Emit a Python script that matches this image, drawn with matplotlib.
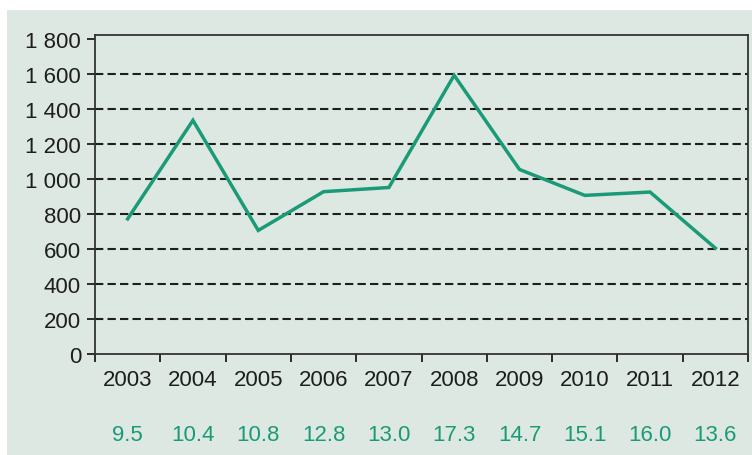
import matplotlib
matplotlib.use("Agg")
import matplotlib.pyplot as plt
from matplotlib.patches import Rectangle

years = ["2003", "2004", "2005", "2006", "2007", "2008", "2009", "2010", "2011", "2012"]
values = [771, 1333, 705, 926, 950, 1590, 1053, 905, 924, 604]
bottom_labels = ["9.5", "10.4", "10.8", "12.8", "13.0", "17.3", "14.7", "15.1", "16.0", "13.6"]

bg = "#dde8e2"
green = "#1b9a78"
dark = "#1e1e1e"

plt.rcParams["font.family"] = ["Liberation Sans", "DejaVu Sans"]

fig = plt.figure(figsize=(7.52, 4.56), dpi=100)
fig.patch.set_facecolor("white")
fig.add_artist(Rectangle((7 / 752, 0), 1 - 7 / 752, 1 - 11 / 456,
                         transform=fig.transFigure, facecolor=bg,
                         edgecolor="none", zorder=-1))

ax = fig.add_axes([95 / 752, 101 / 456, 653 / 752, 319 / 456])
ax.set_zorder(1)
ax.set_facecolor(bg)

x = list(range(len(years)))
ax.plot(x, values, color=green, linewidth=2.5, solid_joinstyle="miter", zorder=3)

ax.set_xlim(-0.5, len(years) - 0.5)
ax.set_ylim(0, 1820)

# y axis
yticks = list(range(0, 1801, 200))
ax.set_yticks(yticks)
ax.set_yticklabels([f"{v:,}".replace(",", " ") for v in yticks])
for v in yticks[1:-1]:
    ax.axhline(v, color=dark, linewidth=1.5, linestyle=(0, (4.0, 2.0)), zorder=2)

# x axis: ticks at boundaries, labels at centres
ax.set_xticks([i - 0.5 for i in range(len(years) + 1)])
ax.set_xticklabels([])
ax.set_xticks(x, minor=True)
ax.set_xticklabels(years, minor=True)
ax.tick_params(axis="x", which="minor", length=0, pad=11, labelsize=16, colors=dark)
ax.tick_params(axis="x", which="major", length=6, width=1.3, direction="out", color=dark)
ax.tick_params(axis="y", length=6, width=1.3, direction="out", pad=4, labelsize=16,
               colors=dark)

for s in ax.spines.values():
    s.set_color("#333333")
    s.set_linewidth(1.3)

for i, lab in enumerate(bottom_labels):
    ax.text(i, -0.251, lab, transform=ax.get_xaxis_transform(), ha="center",
            va="center", color=green, fontsize=16)

fig.savefig("out.png", dpi=100, facecolor=fig.get_facecolor())
